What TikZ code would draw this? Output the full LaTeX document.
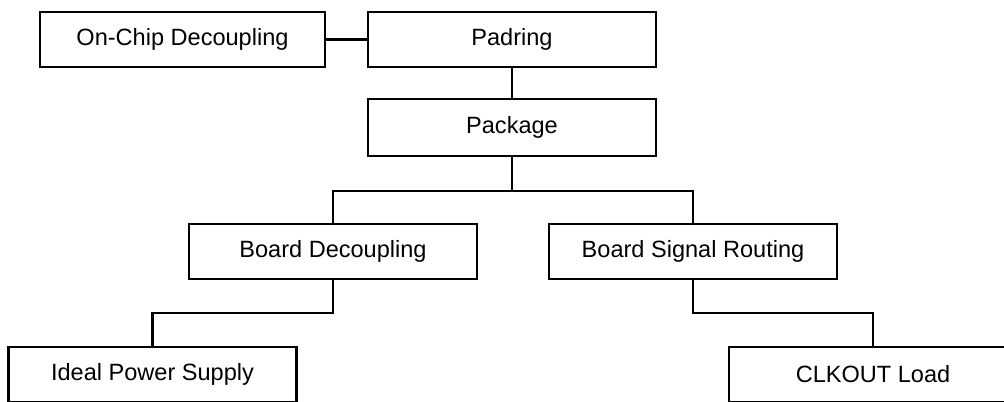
\documentclass[tikz,border=0pt]{standalone}
\usepackage{fontspec}
\setmainfont{Liberation Sans}
\usepackage{tikz}
\usetikzlibrary{positioning}

\begin{document}
\begin{tikzpicture}[blockstyle/.style={rectangle, draw=black, line width=1.3pt, minimum width=5.76cm, minimum height=1.1cm, inner sep=0pt, font=\fontsize{13.4}{16}\selectfont}]
    \useasboundingbox (0,0) rectangle (20.08,8.02);
    \clip (0,0) rectangle (20.08,8.02);
    \node (onchip) at (3.65,7.23)[blockstyle, minimum width=5.7cm]{On-Chip Decoupling};
    \node (padring) at (10.24,7.23)[blockstyle]{Padring};
    \node (pkg) at (10.24,5.47)[blockstyle, minimum height=1.14cm]{Package};
    \node (bdec) at (6.66,2.99)[blockstyle]{Board Decoupling};
    \node (bsr) at (13.86,2.99)[blockstyle]{Board Signal Routing};
    \node (ideal) at (3.05,0.53)[blockstyle]{Ideal Power Supply};
    \node (clkout) at (17.46,0.53)[blockstyle]{CLKOUT Load};
    \coordinate (fork1) at (10.24,4.2);
    \coordinate (fork2) at (6.66,1.76);
    \coordinate (fork3) at (13.86,1.76);
    \draw[line width=1.3pt] (onchip)--(padring);
    \draw[line width=1.3pt] (padring)--(pkg);
    \draw[line width=1.3pt] (pkg.south)--(fork1)-|(bdec.north);
    \draw[line width=1.3pt] (fork1)-|(bsr.north);
    \draw[line width=1.3pt] (bdec.south)--(fork2)-|(ideal.north);
    \draw[line width=1.3pt] (bsr.south)--(fork3)-|(clkout.north);
\end{tikzpicture}
\end{document}
